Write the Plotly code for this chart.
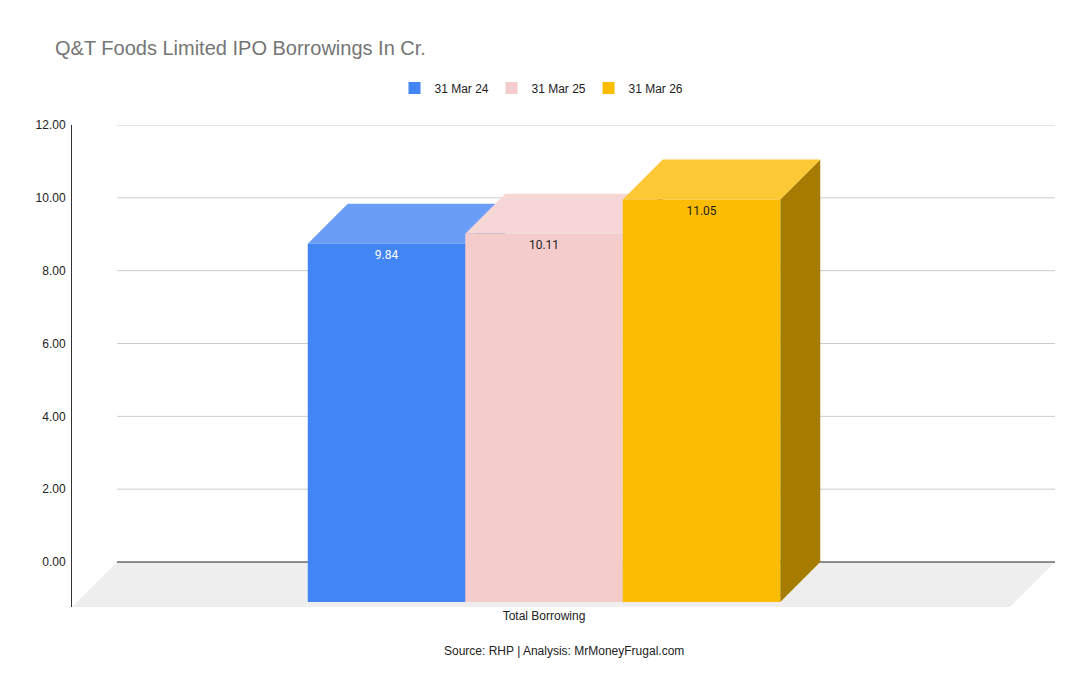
import plotly.graph_objects as go

# Data
category = "Total Borrowing"
periods = ["31 Mar 24", "31 Mar 25", "31 Mar 26"]
borrowings = [9.84, 10.11, 11.05]
front_colors = ["#4285F4", "#F4CCCC", "#FBBC04"]
top_colors = ["#6A9DF6", "#F6D6D7", "#FCC834"]
side_colors = ["#2C58A2", "#A18888", "#A67C00"]
label_colors = ["#FFFFFF", "#222222", "#222222"]
y_ticks = [0, 2, 4, 6, 8, 10, 12]

# Layout geometry (pixels); page body adds an 8px margin
W, H = 1082, 686
ml, mr, mt, mb = 64, 35, 117, 87
plot_w = W - ml - mr
plot_h = H - mt - mb
floor_depth = 45  # floor depth in px
bar_depth = 40    # bar depth in px

y_max = 12
py = (plot_h - floor_depth) / y_max       # px per y unit
front_w = plot_w - floor_depth            # px width of front floor edge
y_min = -floor_depth / py
fdx = floor_depth / front_w               # floor depth in x units
bdx = bar_depth / front_w                 # bar depth in x units
bdy = bar_depth / py                      # bar depth in y units

fig = go.Figure()

# floor
fig.add_trace(go.Scatter(
    x=[-0.5, 0.5, 0.5 + fdx, -0.5 + fdx, -0.5],
    y=[y_min, y_min, 0, 0, y_min],
    fill="toself", fillcolor="#EEEEEE", mode="none",
    showlegend=False, hoverinfo="skip"))

# gridlines on back wall
for t in y_ticks:
    fig.add_trace(go.Scatter(
        x=[-0.5 + fdx, 0.5 + fdx], y=[t, t], mode="lines",
        line=dict(color="#222222" if t == 0 else "#CCCCCC", width=1),
        showlegend=False, hoverinfo="skip"))

# 3D bars
bar_w = 157.5 / front_w
group_c = 3 / front_w
n = len(borrowings)
for i, (name, v) in enumerate(zip(periods, borrowings)):
    xl = group_c + (i - n / 2) * bar_w
    xr = xl + bar_w
    top = v - bdy
    # side face
    fig.add_trace(go.Scatter(
        x=[xr, xr + bdx, xr + bdx, xr, xr],
        y=[-bdy, 0, v, top, -bdy],
        fill="toself", fillcolor=side_colors[i], mode="none",
        showlegend=False, hoverinfo="skip"))
    # top face
    fig.add_trace(go.Scatter(
        x=[xl, xl + bdx, xr + bdx, xr, xl],
        y=[top, v, v, top, top],
        fill="toself", fillcolor=top_colors[i], mode="none",
        showlegend=False, hoverinfo="skip"))
    # front face
    fig.add_trace(go.Scatter(
        x=[xl, xr, xr, xl, xl],
        y=[-bdy, -bdy, top, top, -bdy],
        fill="toself", fillcolor=front_colors[i], mode="none",
        showlegend=False, name=name,
        hovertemplate=f"{name}: {v:.2f}<extra></extra>"))
    # value label
    fig.add_trace(go.Scatter(
        x=[(xl + xr) / 2], y=[top - 12 / py], mode="text",
        text=[f"{v:.2f}"], textposition="middle center",
        textfont=dict(family="Roboto, Arial", size=12, color=label_colors[i]),
        showlegend=False, hoverinfo="skip"))

# legend entries
for name, c in zip(periods, front_colors):
    fig.add_trace(go.Scatter(
        x=[None], y=[None], mode="markers", name=name,
        marker=dict(symbol="square", size=12, color=c)))

fig.update_layout(
    width=W, height=H,
    margin=dict(l=ml, r=mr, t=mt, b=mb),
    paper_bgcolor="white", plot_bgcolor="white",
    font=dict(family="Arial, Liberation Sans", size=12, color="#222222"),
    title=dict(text="Q&T Foods Limited IPO Borrowings In Cr.",
               x=47 / W, xanchor="left", xref="container",
               y=1 - 40 / H, yanchor="middle", yref="container",
               font=dict(size=20, color="#757575")),
    legend=dict(orientation="h", xref="container", x=532 / W, xanchor="center",
                yref="container", y=1 - 80 / H, yanchor="middle",
                entrywidth=52, font=dict(size=12, color="#222222")),
    xaxis=dict(range=[-0.5, 0.5 + fdx], showgrid=False, zeroline=False,
               showline=False, tickvals=[group_c], ticktext=[category],
               ticks="", fixedrange=True),
    yaxis=dict(range=[y_min, y_max], tickvals=y_ticks, tickformat=".2f",
               showgrid=False, zeroline=False, showline=True,
               linecolor="#333333", linewidth=1, ticks="outside",
               ticklen=3, tickcolor="white", fixedrange=True),
    annotations=[dict(text="Source: RHP | Analysis: MrMoneyFrugal.com",
                      xref="paper", x=0.5, xanchor="center",
                      yref="paper", y=-44 / plot_h, yanchor="middle",
                      showarrow=False, font=dict(size=12, color="#222222"))],
)

fig.write_html("out.html")
